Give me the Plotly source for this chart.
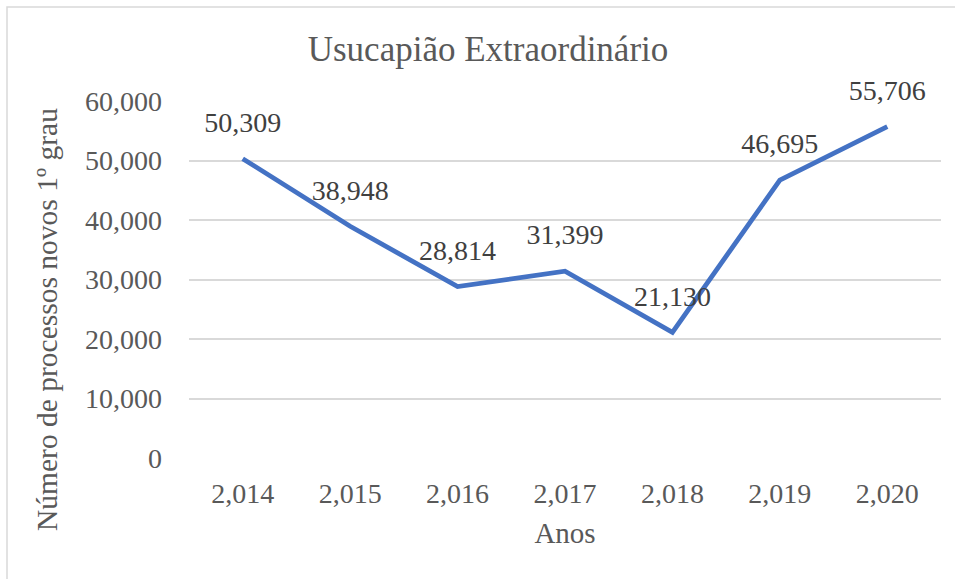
import plotly.graph_objects as go

years = ["2,014", "2,015", "2,016", "2,017", "2,018", "2,019", "2,020"]
values = [50309, 38948, 28814, 31399, 21130, 46695, 55706]
labels = ["50,309", "38,948", "28,814", "31,399", "21,130", "46,695", "55,706"]
y_ticks = [0, 10000, 20000, 30000, 40000, 50000, 60000]
y_tick_text = ["0", "10,000", "20,000", "30,000", "40,000", "50,000", "60,000"]

FONT = "Liberation Serif"
W, H = 955, 579
L, R, T, B = 189, 14, 101, 121
pw = W - L - R
ph = H - T - B

fig = go.Figure()
fig.add_trace(go.Scatter(
    x=years, y=values, mode="lines+markers+text",
    line=dict(color="#4472C4", width=4.8),
    marker=dict(size=30, color="rgba(0,0,0,0)"),
    text=labels, textposition="top center",
    textfont=dict(family=FONT, size=28, color="#404040"),
    cliponaxis=False, hoverinfo="skip", showlegend=False,
))

def px_x(x):
    return (x - L) / pw

def px_y(y):
    return (H - B - y) / ph

fig.update_layout(
    width=W, height=H,
    margin=dict(l=L, r=R, t=T, b=B),
    paper_bgcolor="white", plot_bgcolor="white",
    font=dict(family=FONT),
    title=dict(text="Usucapião Extraordinário", x=488 / W, xanchor="center",
               y=1 - 49 / H, yanchor="middle", xref="container", yref="container",
               font=dict(family=FONT, size=35, color="#595959")),
    xaxis=dict(type="category", range=[-0.5, 6.5], showgrid=False, zeroline=False,
               showline=False, ticks="", ticklabelstandoff=16,
               tickfont=dict(family=FONT, size=28, color="#595959"),
               title=dict(text="Anos", standoff=14,
                          font=dict(family=FONT, size=29, color="#595959"))),
    yaxis=dict(range=[0, 60000], tickvals=y_ticks, ticktext=y_tick_text,
               showgrid=True, gridcolor="#D9D9D9", gridwidth=1.5, zeroline=False,
               showline=False, ticks="", ticklabelstandoff=26,
               tickfont=dict(family=FONT, size=28, color="#595959")),
    annotations=[dict(text="Número de processos novos 1º grau", textangle=-90,
                      xref="paper", yref="paper", x=px_x(47), y=px_y(320),
                      xanchor="center", yanchor="middle", showarrow=False,
                      font=dict(family=FONT, size=29.5, color="#595959"))],
    shapes=[dict(type="rect", xref="paper", yref="paper",
                 x0=px_x(7), x1=px_x(W + 10), y0=px_y(H + 10), y1=px_y(7),
                 line=dict(color="#D9D9D9", width=1.5), fillcolor="rgba(0,0,0,0)",
                 layer="below")],
)

fig.write_html("out.html", config={"displayModeBar": False},
               post_script="document.body.style.margin='0';document.body.style.overflow='hidden';")
